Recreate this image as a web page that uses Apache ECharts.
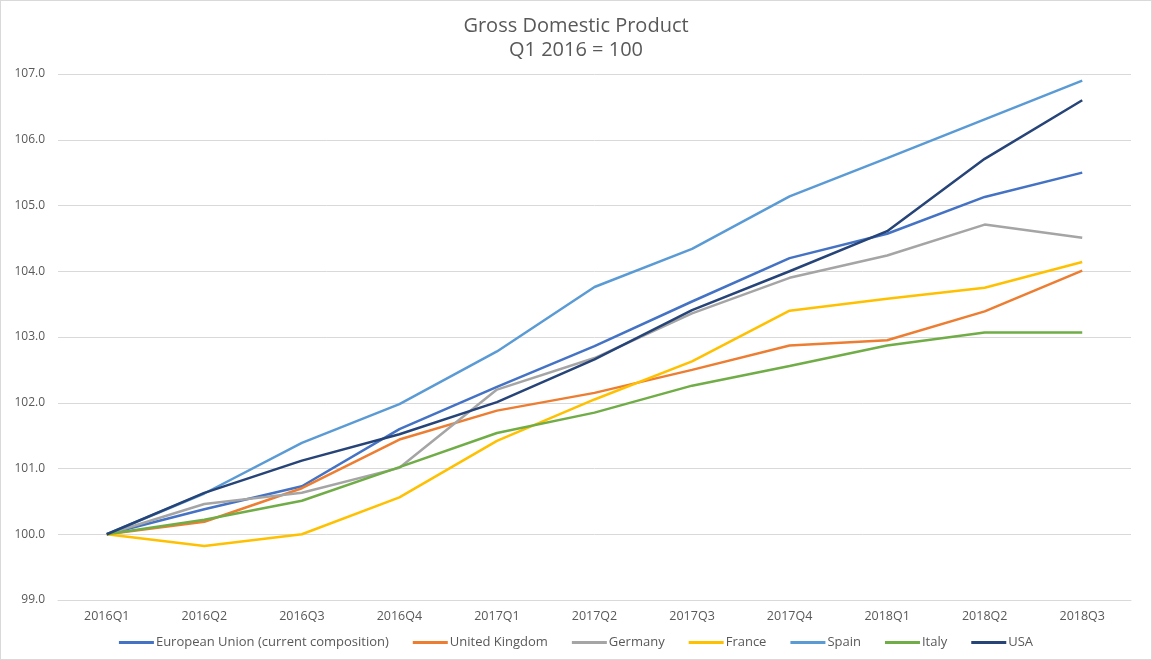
<!DOCTYPE html>
<html>
<head>
<meta charset="utf-8">
<script src="https://cdn.jsdelivr.net/npm/echarts@6/dist/echarts.min.js"></script>
<style>
  html, body { margin: 0; padding: 0; background: #fff; }
  #chart { width: 1150px; height: 658px; border: 1px solid #d9d9d9; }
</style>
</head>
<body>
<div id="chart"></div>
<script>
// quarters on the x axis
const quarters = ['2016Q1', '2016Q2', '2016Q3', '2016Q4', '2017Q1', '2017Q2',
  '2017Q3', '2017Q4', '2018Q1', '2018Q2', '2018Q3'];

// index values, Q1 2016 = 100
const eu      = [100, 100.38, 100.73, 101.60, 102.24, 102.86, 103.54, 104.20, 104.57, 105.13, 105.50];
const uk      = [100, 100.19, 100.70, 101.44, 101.88, 102.15, 102.50, 102.87, 102.95, 103.39, 104.01];
const germany = [100, 100.46, 100.63, 101.01, 102.20, 102.68, 103.36, 103.90, 104.24, 104.71, 104.51];
const france  = [100, 99.82, 100.00, 100.56, 101.42, 102.05, 102.63, 103.40, 103.58, 103.75, 104.14];
const spain   = [100, 100.62, 101.39, 101.98, 102.78, 103.76, 104.34, 105.14, 105.72, 106.31, 106.90];
const italy   = [100, 100.22, 100.51, 101.02, 101.54, 101.85, 102.26, 102.56, 102.87, 103.07, 103.07];
const usa     = [100, 100.63, 101.12, 101.52, 102.01, 102.66, 103.41, 104.00, 104.61, 105.71, 106.60];

const seriesList = [
  { name: 'European Union (current composition)', data: eu, color: '#4472C4' },
  { name: 'United Kingdom', data: uk, color: '#ED7D31' },
  { name: 'Germany', data: germany, color: '#A5A5A5' },
  { name: 'France', data: france, color: '#FFC000' },
  { name: 'Spain', data: spain, color: '#5B9BD5' },
  { name: 'Italy', data: italy, color: '#70AD47' },
  { name: 'USA', data: usa, color: '#264478' }
];

const myChart = echarts.init(document.getElementById('chart'));
const option = {
  animation: false,
  textStyle: { fontFamily: 'Open Sans, Noto Sans, sans-serif' },
  title: {
    text: 'Gross Domestic Product\nQ1 2016 = 100',
    left: 'center',
    top: 8,
    textStyle: {
      fontSize: 20,
      fontWeight: 'normal',
      color: '#595959',
      lineHeight: 24,
      fontFamily: 'Open Sans, Noto Sans, sans-serif'
    }
  },
  legend: {
    bottom: 5,
    left: 'center',
    icon: 'rect',
    itemWidth: 35,
    itemHeight: 3,
    itemGap: 24,
    textStyle: { fontSize: 13, color: '#595959', padding: [0, 0, 0, -3] },
    data: seriesList.map(s => s.name)
  },
  grid: { left: 57, right: 20, top: 73, bottom: 59 },
  xAxis: {
    type: 'category',
    data: quarters,
    boundaryGap: true,
    axisLine: { show: true, lineStyle: { color: '#d9d9d9' } },
    axisTick: { show: false },
    axisLabel: { color: '#595959', fontSize: 12.5, margin: 10 }
  },
  yAxis: {
    type: 'value',
    min: 99,
    max: 107,
    interval: 1,
    axisLine: { show: false },
    axisTick: { show: false },
    axisLabel: {
      color: '#595959',
      fontSize: 12,
      margin: 13,
      formatter: v => v.toFixed(1)
    },
    splitLine: { lineStyle: { color: '#d9d9d9', width: 1 } }
  },
  series: seriesList.map(s => ({
    name: s.name,
    type: 'line',
    data: s.data,
    showSymbol: false,
    symbol: 'none',
    color: s.color,
    lineStyle: { color: s.color, width: 2.5 }
  }))
};
myChart.setOption(option);
</script>
</body>
</html>
